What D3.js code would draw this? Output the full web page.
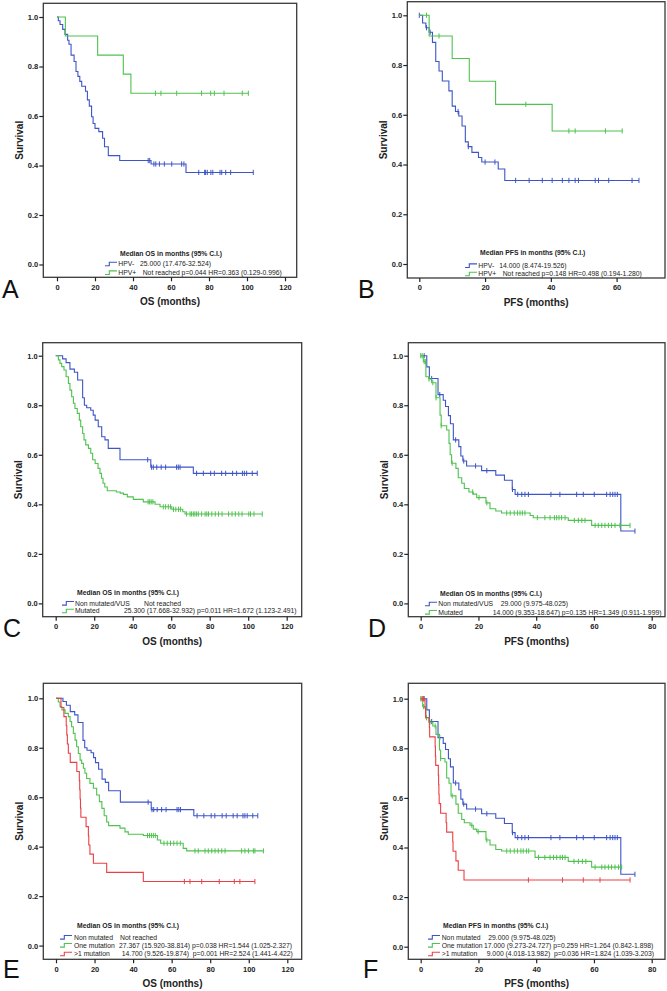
<!DOCTYPE html>
<html>
<head>
<meta charset="utf-8">
<script src="https://cdnjs.cloudflare.com/ajax/libs/d3/7.8.5/d3.min.js"></script>
<style>
  body { margin: 0; background: #fff; }
  svg text { font-family: "Liberation Sans", Arial, sans-serif; }
</style>
</head>
<body>
<svg id="chart" width="667" height="991"></svg>
<script>
// ---- data: Kaplan-Meier steps [months, survival] and censored times ----
// A: OS by HPV
const osHpvNegEvents = [[0.7,0.985],[1.6,0.97],[3,0.95],[4.2,0.93],[5.6,0.906],[6.3,0.89],[7.4,0.846],[9,0.82],[10,0.78],[11,0.76],[12,0.74],[13,0.72],[15,0.70],[16,0.665],[17,0.64],[18.2,0.597],[19,0.57],[20,0.55],[22,0.537],[24,0.51],[25,0.476],[27,0.44],[33,0.42],[49.5,0.406],[67.9,0.372]];
const osHpvNegCensored = [48,48.8,51,52,53.9,56.5,60.4,65.6,66.8,74.6,77.7,78.2,79.1,81,82,85.8,86.7,88.8,91.4,103.3];
const osHpvPosEvents = [[4.4,0.923],[21.4,0.846],[34.9,0.769],[38.9,0.692]];
const osHpvPosCensored = [51.8,54.7,63,76.1,80.9,82.8,87.9,97.5,100.7];

// B: PFS by HPV
const pfsHpvNegEvents = [[1,0.969],[2,0.95],[3,0.932],[4,0.891],[5,0.814],[6,0.776],[7,0.736],[9,0.696],[10,0.635],[11,0.613],[12,0.595],[13,0.555],[14,0.491],[14.9,0.472],[16,0.449],[18,0.428],[19,0.41],[24,0.382],[26,0.336]];
const pfsHpvNegCensored = [0,2.2,3.3,11.8,14.9,20,23,29.3,33.4,37.4,40.4,43.5,45.5,47.4,48.4,53.5,54.5,57.6,64.7,66.8];
const pfsHpvPosEvents = [[3,0.917],[10,0.826],[15.2,0.735],[23.2,0.642],[40.4,0.535]];
const pfsHpvPosCensored = [2.2,6,32.4,45.5,47.4,56.6,61.7];

// C/E: OS non mutated, C: OS mutated, E: OS one mutation / >1 mutation
const osNonMutEvents = [[3.6,0.987],[5.4,0.972],[7.4,0.946],[9.7,0.933],[11.4,0.902],[14,0.83],[14.9,0.80],[16.1,0.79],[18.2,0.78],[19.5,0.76],[20.5,0.74],[22.1,0.713],[23.9,0.673],[25.6,0.66],[27.3,0.626],[33.4,0.58],[49.4,0.55],[71.5,0.525]];
const osNonMutCensored = [47.8,49.8,50.7,52.5,54.8,57.1,62.8,63.7,64.6,73.2,76.7,80.5,82.4,86.2,88.3,91.9,94,97,98,99.2,102.1,104.7];
const osMutEvents = [[1.4,0.983],[2.2,0.969],[3.1,0.956],[4.3,0.942],[5.4,0.915],[6.6,0.888],[7.4,0.861],[8.3,0.834],[9.2,0.808],[10,0.787],[11.2,0.767],[12.3,0.74],[13,0.713],[14,0.686],[14.7,0.66],[15.6,0.64],[17,0.626],[18.2,0.606],[19.2,0.58],[20.5,0.565],[22,0.545],[23,0.525],[23.8,0.505],[24.6,0.485],[25.5,0.47],[26.8,0.455],[31.5,0.45],[33.5,0.445],[35.2,0.44],[37.2,0.43],[40.3,0.42],[45.5,0.41],[51.6,0.40],[54.2,0.39],[60.3,0.38],[66,0.37],[67.2,0.361]];
const osMutCensored = [48,48.8,49.6,50.5,55.9,57.1,58.5,59.7,61.2,62.4,63.8,64.8,68,69.8,70.6,71.5,72.3,73.2,74.1,75.8,77.6,78.5,79.4,81.1,82.9,84.6,86.4,89.8,91.6,93.3,95.1,96.8,100.3,101.2,103,107.3];
const osOneMutEvents = [[1.2,0.985],[2.1,0.966],[3.1,0.953],[4.7,0.939],[6.4,0.926],[7.3,0.906],[8.1,0.885],[9,0.858],[9.9,0.831],[10.7,0.804],[11.6,0.777],[12.5,0.75],[13.3,0.737],[14.2,0.717],[15,0.697],[15.9,0.676],[17.6,0.656],[19.4,0.636],[21.1,0.609],[22.5,0.582],[23.8,0.555],[25,0.525],[26.3,0.5],[27.3,0.485],[33.2,0.475],[35.8,0.46],[37.5,0.45],[45.3,0.445],[52.6,0.427],[54.3,0.414],[66,0.393],[67.8,0.383]];
const osOneMutCensored = [47.5,48.5,49.5,50.5,51.5,56,57.7,59.4,61.1,62.8,64.5,72.1,73.8,77.3,79,80.8,82.5,84.2,86,87.7,96.3,98,99.8,102.4,103.2,107.6];
const osMultiMutEvents = [[2.6,0.963],[4.1,0.926],[5.3,0.889],[5.6,0.852],[5.9,0.815],[6.4,0.778],[7.4,0.741],[10.8,0.704],[12.1,0.667],[12.3,0.63],[12.5,0.593],[12.7,0.556],[12.9,0.519],[15.6,0.481],[16.8,0.444],[17,0.407],[17.6,0.37],[19.4,0.333],[26.3,0.296],[45.3,0.259]];
const osMultiMutCensored = [66.6,69.5,75.6,84.7,92.5,95.4,103.2];

// D/F: PFS non mutated, D: PFS mutated, F: PFS one mutation / >1 mutation
const pfsNonMutEvents = [[2.1,0.955],[3,0.908],[6,0.843],[7.8,0.82],[8.6,0.795],[9.6,0.758],[10.3,0.725],[11.3,0.66],[13.2,0.633],[13.9,0.595],[14.6,0.575],[15.9,0.555],[21.1,0.536],[26,0.518],[29,0.497],[31.7,0.46],[32.7,0.44],[69.3,0.292]];
const pfsNonMutCensored = [1.2,3.8,6.6,12.1,14.9,19,22.9,31.8,33.6,35,36.1,37.3,45.1,48.2,54,56.3,60.1,64.4,65.6,66.5,67.3,68.1,74.2];
const pfsMutEvents = [[0.9,0.976],[1.8,0.915],[2.8,0.906],[3.8,0.891],[5.3,0.83],[6.7,0.76],[7.1,0.717],[9,0.70],[9.8,0.646],[10.2,0.60],[10.7,0.566],[12.2,0.545],[13,0.507],[14.2,0.485],[15.1,0.464],[16.7,0.45],[18.2,0.441],[19.4,0.427],[22.6,0.406],[24,0.382],[26,0.373],[28,0.365],[37.9,0.355],[39,0.346],[51.1,0.335],[59.2,0.315]];
const pfsMutCensored = [0,0.5,1.2,1.6,2.9,4.2,5.3,7.1,10.9,18,20.2,22.9,29.8,31,32.4,33.5,34.4,35.2,36.1,40.4,43,44.8,46.3,47.1,47.9,48.8,50,53.2,54.6,55.8,56.9,60.4,61.5,62.7,63.8,65,66.1,67.3,69,72.5];
const pfsOneMutEvents = [[0.7,0.968],[1.8,0.923],[2.8,0.905],[4.2,0.89],[5.3,0.856],[6.5,0.793],[6.9,0.759],[8.4,0.745],[9,0.68],[9.8,0.659],[10.5,0.608],[12.2,0.575],[13,0.538],[14.2,0.513],[15.1,0.50],[17.1,0.49],[18.2,0.474],[19.4,0.464],[22.6,0.43],[24,0.41],[26,0.392],[28,0.386],[39.6,0.36],[51.1,0.344],[59.2,0.321]];
const pfsOneMutCensored = [0,0.5,1,2,3.2,5,6.9,10.9,17.7,19.9,22.9,29.8,31,32.4,33.5,34.7,35.5,36.6,37.4,40.8,43,44.8,46,47.1,48.3,49.1,50,53.1,54.6,56,57.2,60.4,62.7,63.8,65,66.1,67.3,68.5,69.6];
const pfsMultiMutEvents = [[1.5,0.962],[1.7,0.923],[3,0.885],[3.1,0.846],[5,0.808],[5.1,0.769],[5.2,0.731],[6.1,0.692],[6.2,0.654],[6.3,0.615],[6.4,0.577],[6.9,0.538],[8.8,0.50],[9,0.462],[11.1,0.423],[11.2,0.385],[12.2,0.346],[13,0.308],[15,0.269]];
const pfsMultiMutCensored = [0.5,1,37.3,49.1,56.3,62.1,72.5];

// ---- axis ticks and legend texts ----
const yTicks = [0, 0.2, 0.4, 0.6, 0.8, 1.0];
const osTicks = [0, 20, 40, 60, 80, 100, 120];
const pfsTicks60 = [0, 20, 40, 60];
const pfsTicks80 = [0, 20, 40, 60, 80];

const hpvLabels = ["HPV-", "HPV+"];
const vusLabels = ["Non mutated/VUS", "Mutated"];
const countLabels = ["Non mutated", "One mutation", ">1 mutation"];

const statsA = ["25.000 (17.476-32.524)", "Not reached p=0.044 HR=0.363 (0.129-0.996)"];
const statsB = ["14.000 (8.474-19.526)", "Not reached p=0.148 HR=0.498 (0.194-1.280)"];
const statsC = ["Not reached", "25.300 (17.668-32.932) p=0.011 HR=1.672 (1.123-2.491)"];
const statsD = ["29.000 (9.975-48.025)", "14.000 (9.353-18.647) p=0.135 HR=1.349 (0.911-1.999)"];
const statsE = ["Not reached", "27.367 (15.920-38.814) p=0.038 HR=1.544 (1.025-2.327)", "14.700 (9.526-19.874)  p=0.001 HR=2.524 (1.441-4.422)"];
const statsF = ["29.000 (9.975-48.025)", "17.000 (9.273-24.727) p=0.259 HR=1.264 (0.842-1.898)", "9.000 (4.018-13.982)  p=0.036 HR=1.824 (1.039-3.203)"];

const blue = "#3d55c6", green = "#4fc24f", red = "#ea4045";

// ---- panel layout ----
const panels = [
  { letter: "A", lx: 2, ly: 298, frame: [43.3, 3.3, 296.7, 277.3], xMax: 120, xr: [57, 285], yr: [264.5, 17], ticks: osTicks, xTitle: "OS (months)",
    series: [[osHpvNegEvents, osHpvNegCensored, blue], [osHpvPosEvents, osHpvPosCensored, green]],
    legend: { title: "Median OS in months (95% C.I.)", tx: 120, ty: 254, ix: 105, labx: 118.3, rows: [264, 272.7], labels: hpvLabels, stats: statsA, sx: [140, 142.7] } },
  { letter: "B", lx: 358, ly: 298, frame: [407.3, 1.7, 665, 278], xMax: 60, xr: [419.3, 616.6], yr: [264, 15.3], ticks: pfsTicks60, xTitle: "PFS (months)",
    series: [[pfsHpvNegEvents, pfsHpvNegCensored, blue], [pfsHpvPosEvents, pfsHpvPosCensored, green]],
    legend: { title: "Median PFS in months (95% C.I.)", tx: 480, ty: 252.3, ix: 465, labx: 478.3, rows: [265.7, 274], labels: hpvLabels, stats: statsB, sx: [499.3, 502.7] } },
  { letter: "C", lx: 3, ly: 637, frame: [42.7, 342.7, 301.7, 616.7], xMax: 120, xr: [55.7, 286.7], yr: [603.4, 355.7], ticks: osTicks, xTitle: "OS (months)",
    series: [[osNonMutEvents, osNonMutCensored, blue], [osMutEvents, osMutCensored, green]],
    legend: { title: "Median OS in months (95% C.I.)", tx: 77, ty: 592.7, ix: 62, labx: 75, rows: [603.3, 611], labels: vusLabels, stats: statsC, sx: [144, 124] } },
  { letter: "D", lx: 368, ly: 637, frame: [408.3, 342.7, 665, 616.7], xMax: 80, xr: [420.7, 651.7], yr: [603.4, 355.7], ticks: pfsTicks80, xTitle: "PFS (months)",
    series: [[pfsNonMutEvents, pfsNonMutCensored, blue], [pfsMutEvents, pfsMutCensored, green]],
    legend: { title: "Median OS in months (95% C.I.)", tx: 440, ty: 593.3, ix: 425, labx: 438.3, rows: [604, 612.3], labels: vusLabels, stats: statsD, sx: [500.7, 492.7] } },
  { letter: "E", lx: 3, ly: 978, frame: [43.3, 683.3, 301.7, 959.3], xMax: 120, xr: [56, 287.3], yr: [945.6, 698.3], ticks: osTicks, xTitle: "OS (months)",
    series: [[osNonMutEvents, osNonMutCensored, blue], [osOneMutEvents, osOneMutCensored, green], [osMultiMutEvents, osMultiMutCensored, red]],
    legend: { title: "Median OS in months (95% C.I.)", tx: 77, ty: 926, ix: 60, labx: 74, rows: [937.3, 945.3, 954], labels: countLabels, stats: statsE, sx: [120, 119, 121.7] } },
  { letter: "F", lx: 363, ly: 978, frame: [408.3, 683.3, 665, 959.3], xMax: 80, xr: [420.7, 651.7], yr: [946.7, 698.7], ticks: pfsTicks80, xTitle: "PFS (months)",
    series: [[pfsNonMutEvents, pfsNonMutCensored, blue], [pfsOneMutEvents, pfsOneMutCensored, green], [pfsMultiMutEvents, pfsMultiMutCensored, red]],
    legend: { title: "Median PFS in months (95% C.I.)", tx: 443, ty: 926, ix: 428, labx: 441.7, rows: [937.3, 945.3, 954], labels: countLabels, stats: statsF, sx: [488.3, 484, 486.7] } }
];

const svg = d3.select("#chart");
const bisect = d3.bisector(d => d[0]).right;

function survivalAt(events, t) {
  const i = bisect(events, t) - 1;
  return i < 0 ? 1 : events[i][1];
}

panels.forEach(p => {
  const g = svg.append("g");
  const [fx0, fy0, fx1, fy1] = p.frame;
  const x = d3.scaleLinear().domain([0, p.xMax]).range(p.xr);
  const y = d3.scaleLinear().domain([0, 1]).range(p.yr);

  // curves
  const line = d3.line().x(d => x(d[0])).y(d => y(d[1])).curve(d3.curveStepAfter);
  p.series.forEach(([events, censored, color]) => {
    const end = Math.max(events[events.length - 1][0], d3.max(censored));
    const pts = [[0, 1]].concat(events, [[end, events[events.length - 1][1]]]);
    g.append("path").attr("d", line(pts))
      .attr("fill", "none").attr("stroke", color).attr("stroke-width", 1.1);
    g.selectAll(null).data(censored).enter().append("line")
      .attr("x1", d => x(d)).attr("x2", d => x(d))
      .attr("y1", d => y(survivalAt(events, d)) - 2.6)
      .attr("y2", d => y(survivalAt(events, d)) + 2.6)
      .attr("stroke", color).attr("stroke-width", 1);
  });

  // frame
  g.append("rect").attr("x", fx0).attr("y", fy0)
    .attr("width", fx1 - fx0).attr("height", fy1 - fy0)
    .attr("fill", "none").attr("stroke", "#3a3a3a").attr("stroke-width", 1.3);

  // axes
  const ya = g.append("g").attr("transform", `translate(${fx0},0)`)
    .call(d3.axisLeft(y).tickValues(yTicks).tickFormat(d3.format(".1f")).tickSize(4).tickPadding(1));
  const xa = g.append("g").attr("transform", `translate(0,${fy1})`)
    .call(d3.axisBottom(x).tickValues(p.ticks).tickFormat(d3.format("d")).tickSize(4).tickPadding(3));
  [ya, xa].forEach(a => {
    a.select(".domain").remove();
    a.selectAll(".tick line").attr("stroke", "#222").attr("stroke-width", 1.2);
    a.selectAll(".tick text").attr("fill", "#222").attr("font-size", 7.5).attr("font-weight", "bold");
  });

  // axis titles
  g.append("text").attr("x", (fx0 + fx1) / 2).attr("y", fy1 + 28)
    .attr("text-anchor", "middle").attr("font-size", 10).attr("font-weight", "bold").attr("fill", "#222")
    .text(p.xTitle);
  g.append("text")
    .attr("transform", `translate(${fx0 - 24},${(fy0 + fy1) / 2}) rotate(-90)`)
    .attr("text-anchor", "middle").attr("dy", "0.35em")
    .attr("font-size", 10).attr("font-weight", "bold").attr("fill", "#222")
    .text("Survival");

  // legend
  const L = p.legend;
  g.append("text").attr("x", L.tx).attr("y", L.ty).attr("dy", "0.35em")
    .attr("font-size", 6.8).attr("font-weight", "bold").attr("fill", "#222").text(L.title);
  L.rows.forEach((ry, i) => {
    const color = p.series[i][2];
    g.append("path")
      .attr("d", `M${L.ix},${ry + 1.8}H${L.ix + 4.3}V${ry - 1.8}H${L.ix + 12}`)
      .attr("fill", "none").attr("stroke", color).attr("stroke-width", 1.1);
    g.append("text").attr("x", L.labx).attr("y", ry).attr("dy", "0.35em")
      .attr("font-size", 6.8).attr("fill", "#222").text(L.labels[i]);
    g.append("text").attr("x", L.sx[i]).attr("y", ry).attr("dy", "0.35em")
      .attr("font-size", 6.8).attr("fill", "#222").style("white-space", "pre").text(L.stats[i]);
  });

  // panel letter
  g.append("text").attr("x", p.lx).attr("y", p.ly)
    .attr("font-size", 25).attr("fill", "#111").text(p.letter);
});
</script>
</body>
</html>
